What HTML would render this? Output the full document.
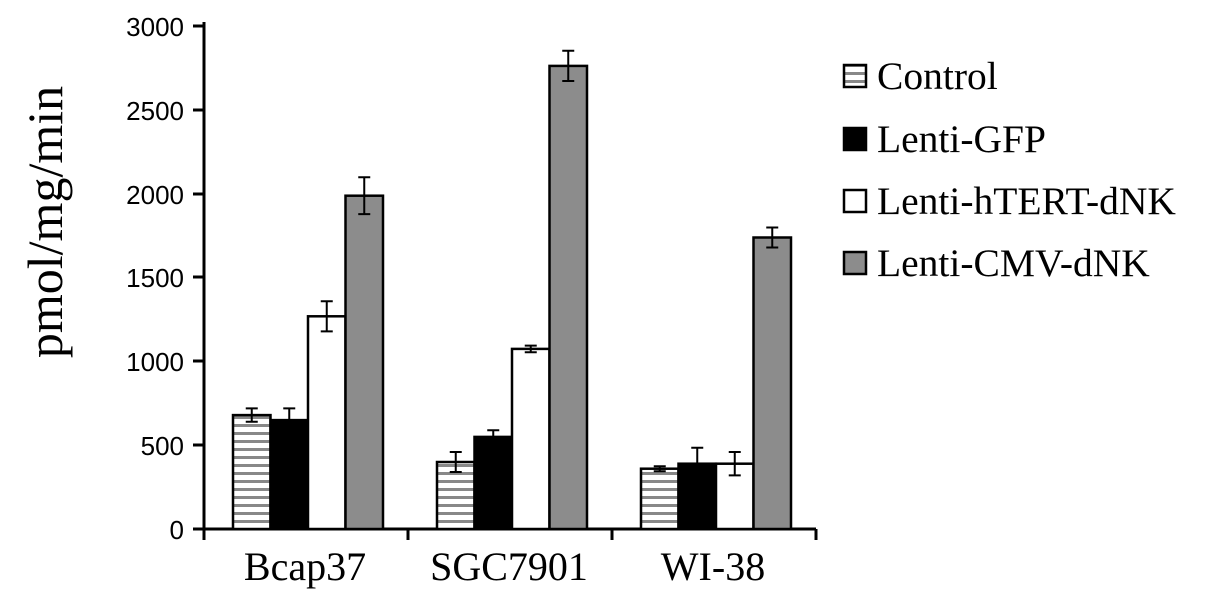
<!DOCTYPE html><html><head><style>body{margin:0;background:#fff}</style></head><body>
<svg width="1205" height="602" xmlns="http://www.w3.org/2000/svg">
<defs><pattern id="h" width="8" height="8" patternUnits="userSpaceOnUse"><rect width="8" height="8" fill="#fff"/><rect y="0" width="8" height="3" fill="#888"/></pattern></defs>
<g font-family="Liberation Sans, sans-serif" font-size="26" text-anchor="end" fill="#000">
<text x="184" y="539">0</text><text x="184" y="455">500</text><text x="184" y="371">1000</text><text x="184" y="287">1500</text><text x="184" y="204">2000</text><text x="184" y="120">2500</text><text x="184" y="36">3000</text>
</g>
<g stroke="#000" stroke-width="3">
<line x1="204" y1="22" x2="204" y2="532"/><line x1="193" y1="529" x2="816" y2="529"/>
<line x1="193" y1="445" x2="204" y2="445"/><line x1="193" y1="361" x2="204" y2="361"/><line x1="193" y1="277" x2="204" y2="277"/><line x1="193" y1="194" x2="204" y2="194"/><line x1="193" y1="110" x2="204" y2="110"/><line x1="193" y1="26" x2="204" y2="26"/>
<line x1="204" y1="529" x2="204" y2="540"/><line x1="408" y1="529" x2="408" y2="540"/><line x1="612" y1="529" x2="612" y2="540"/><line x1="816" y1="529" x2="816" y2="540"/>
</g>
<g stroke="#000" stroke-width="2.5">
<rect x="233" y="415.1" width="37.5" height="113.9" fill="url(#h)"/>
<rect x="270.5" y="420.1" width="37.5" height="108.9" fill="#000"/>
<rect x="308" y="316.3" width="37.5" height="212.7" fill="#fff"/>
<rect x="345.5" y="195.7" width="37.5" height="333.3" fill="#8c8c8c"/>
<rect x="437" y="462" width="37.5" height="67" fill="url(#h)"/>
<rect x="474.5" y="436.9" width="37.5" height="92.1" fill="#000"/>
<rect x="512" y="348.9" width="37.5" height="180.1" fill="#fff"/>
<rect x="549.5" y="65.9" width="37.5" height="463.1" fill="#8c8c8c"/>
<rect x="641" y="468.7" width="37.5" height="60.3" fill="url(#h)"/>
<rect x="678.5" y="463.7" width="37.5" height="65.3" fill="#000"/>
<rect x="716" y="463.7" width="37.5" height="65.3" fill="#fff"/>
<rect x="753.5" y="237.5" width="37.5" height="291.5" fill="#8c8c8c"/>
</g>
<g stroke="#000" stroke-width="2" fill="none">
<path d="M251.75 408.4V421.8M245.75 408.4H257.75M245.75 421.8H257.75"/>
<path d="M289.25 408.4V431.8M283.25 408.4H295.25M283.25 431.8H295.25"/>
<path d="M326.75 301.2V331.4M320.75 301.2H332.75M320.75 331.4H332.75"/>
<path d="M364.25 177.3V214.1M358.25 177.3H370.25M358.25 214.1H370.25"/>
<path d="M455.75 452V472M449.75 452H461.75M449.75 472H461.75"/>
<path d="M493.25 430.2V443.6M487.25 430.2H499.25M487.25 443.6H499.25"/>
<path d="M530.75 345.6V352.3M524.75 345.6H536.75M524.75 352.3H536.75"/>
<path d="M568.25 50.8V81M562.25 50.8H574.25M562.25 81H574.25"/>
<path d="M659.75 466.2V471.2M653.75 466.2H665.75M653.75 471.2H665.75"/>
<path d="M697.25 447.8V479.6M691.25 447.8H703.25M691.25 479.6H703.25"/>
<path d="M734.75 452V475.4M728.75 452H740.75M728.75 475.4H740.75"/>
<path d="M772.25 227.5V247.5M766.25 227.5H778.25M766.25 247.5H778.25"/>
</g>
<g font-family="Liberation Serif, serif" font-size="40" text-anchor="middle"><text x="305" y="580">Bcap37</text><text x="509" y="580">SGC7901</text><text x="713" y="580">WI-38</text></g>
<text transform="translate(62,222) rotate(-90)" font-family="Liberation Serif, serif" font-size="50" text-anchor="middle">pmol/mg/min</text>
<g stroke="#000" stroke-width="2.5">
<rect x="844" y="65" width="22" height="22" fill="url(#h)"/><rect x="844" y="128" width="22" height="22" fill="#000"/><rect x="844" y="190" width="22" height="22" fill="#fff"/><rect x="844" y="252" width="22" height="22" fill="#8c8c8c"/>
</g>
<g font-family="Liberation Serif, serif" font-size="39.5"><text x="877" y="89">Control</text><text x="877" y="152">Lenti-GFP</text><text x="877" y="214">Lenti-hTERT-dNK</text><text x="877" y="276">Lenti-CMV-dNK</text></g>
</svg></body></html>
